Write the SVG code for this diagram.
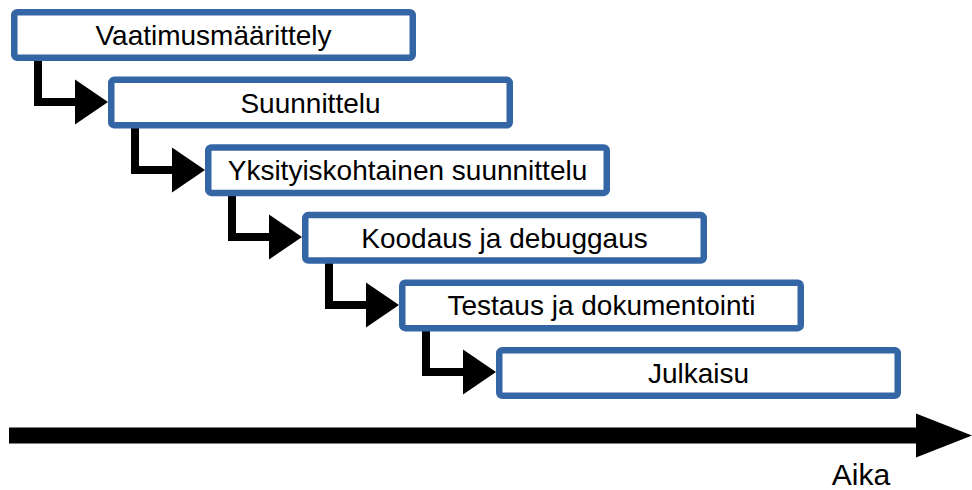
<svg xmlns="http://www.w3.org/2000/svg" width="972" height="490" viewBox="0 0 972 490">
  <style>
    .box { fill: #ffffff; stroke: #3465a4; stroke-width: 6.5; }
    .label { font-family: "Liberation Sans", Arial, sans-serif; font-size: 28px; fill: #000000; text-anchor: middle; }
    .flow { fill: none; stroke: #000000; stroke-width: 8; stroke-linejoin: miter; marker-end: url(#step-head); }
    .axis { fill: none; stroke: #000000; stroke-width: 16; marker-end: url(#axis-head); }
  </style>
  <defs>
    <marker id="step-head" markerUnits="userSpaceOnUse" markerWidth="33" markerHeight="45" refX="23" refY="22.5" orient="auto" overflow="visible">
      <polygon points="0,0 33,22.5 0,45" fill="#000000"/>
    </marker>
    <marker id="axis-head" markerUnits="userSpaceOnUse" markerWidth="56" markerHeight="44" refX="16" refY="22" orient="auto" overflow="visible">
      <polygon points="0,0 56,22 0,44" fill="#000000"/>
    </marker>
  </defs>

  <rect width="972" height="490" fill="#ffffff"/>

  <!-- step connectors: down from each box, then right into the next one -->
  <g id="connectors">
    <path class="flow" d="M38,58 V102 H98"/>
    <path class="flow" d="M135,126 V170 H195"/>
    <path class="flow" d="M232,193 V237 H292"/>
    <path class="flow" d="M329,261 V305 H389"/>
    <path class="flow" d="M426,328 V372 H486"/>
  </g>

  <g id="step1">
    <rect class="box" x="14.25" y="12.25" width="398.5" height="45.5" rx="3"/>
    <text class="label" x="213.5" y="45">Vaatimusmäärittely</text>
  </g>
  <g id="step2">
    <rect class="box" x="111.25" y="79.85" width="398.5" height="45.5" rx="3"/>
    <text class="label" x="310.5" y="112.6">Suunnittelu</text>
  </g>
  <g id="step3">
    <rect class="box" x="208.25" y="147.45" width="398.5" height="45.5" rx="3"/>
    <text class="label" x="407.5" y="180.2">Yksityiskohtainen suunnittelu</text>
  </g>
  <g id="step4">
    <rect class="box" x="305.25" y="215.05" width="398.5" height="45.5" rx="3"/>
    <text class="label" x="504.5" y="247.8">Koodaus ja debuggaus</text>
  </g>
  <g id="step5">
    <rect class="box" x="402.25" y="282.65" width="398.5" height="45.5" rx="3"/>
    <text class="label" x="601.5" y="315.4">Testaus ja dokumentointi</text>
  </g>
  <g id="step6">
    <rect class="box" x="499.25" y="350.25" width="398.5" height="45.5" rx="3"/>
    <text class="label" x="698.5" y="383">Julkaisu</text>
  </g>

  <!-- time axis -->
  <g id="time-axis">
    <path class="axis" d="M9,435.5 H932"/>
    <text x="861" y="485" font-family="Liberation Sans, Arial, sans-serif" font-size="30" text-anchor="middle" fill="#000000">Aika</text>
  </g>
</svg>
